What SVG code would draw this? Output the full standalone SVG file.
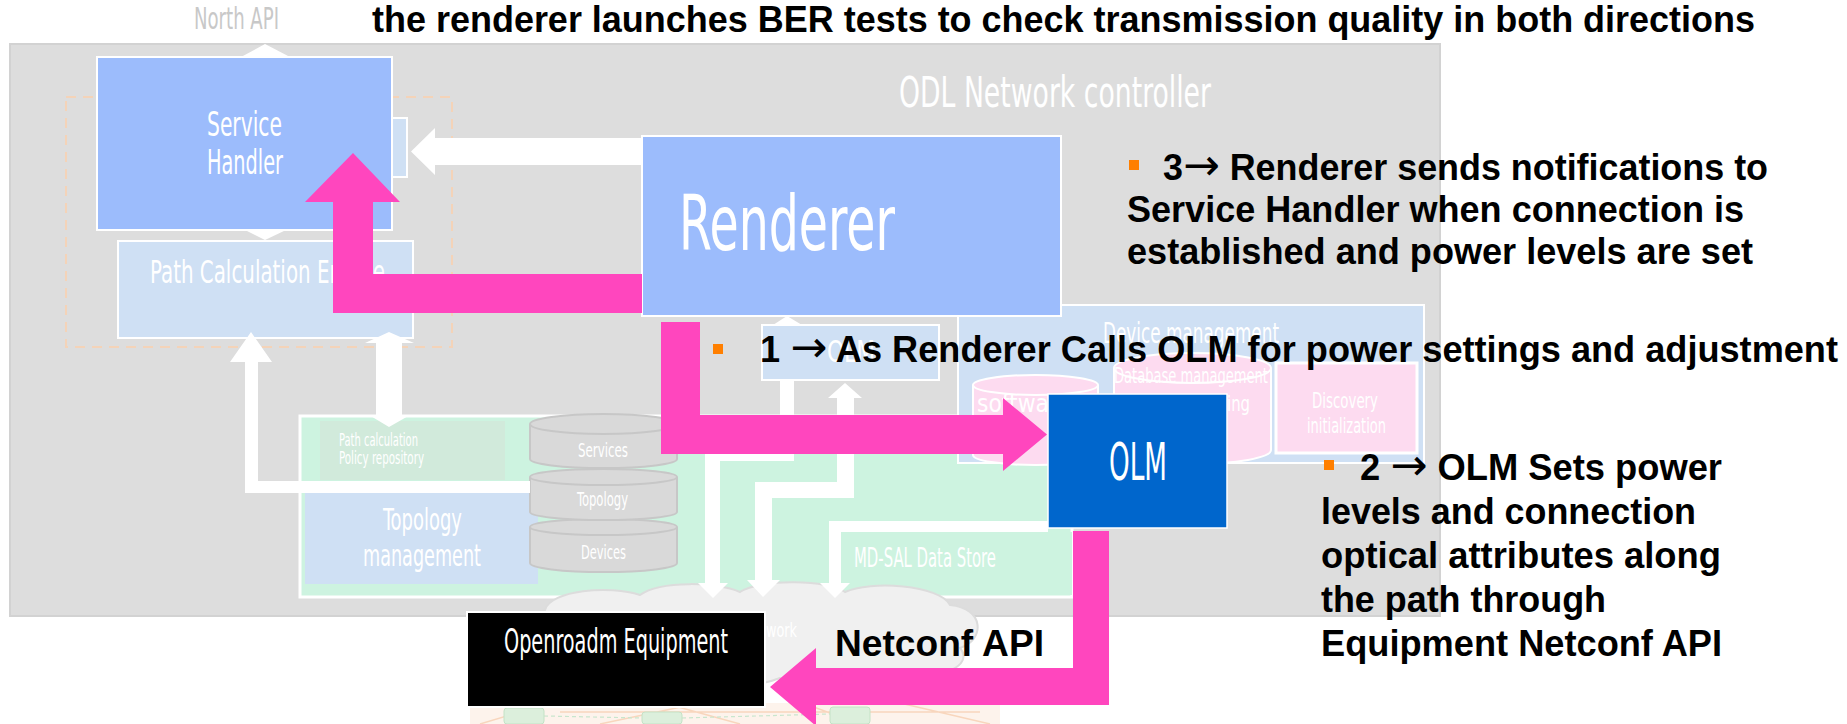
<svg xmlns="http://www.w3.org/2000/svg" width="1847" height="724" viewBox="0 0 1847 724">
<style>
.lbl{font-family:"Liberation Sans Narrow","DejaVu Sans Condensed","Liberation Sans",sans-serif;fill:#ffffff}
.blk{font-family:"Liberation Sans",Arial,sans-serif;font-weight:bold;fill:#000000;font-size:36px}
.arw{font-family:"DejaVu Sans",sans-serif;font-weight:normal;font-size:44px}
.lb{fill:#cfe0f4;stroke:#ffffff;stroke-width:2}
.blue{fill:#9cbcfc;stroke:#ffffff;stroke-width:2}
.pk{fill:#ff46be}
.wh{fill:#ffffff}
.cyl{fill:#d9d9d9;stroke:#c7c7c7;stroke-width:2}
.pcyl{fill:#fddbf0;stroke:#ffffff;stroke-width:2}
.bul{fill:#ff7f00}
.rt{fill:#dcefdc;stroke:#c4e2c6}
</style>
<rect width="1847" height="724" fill="#ffffff"/>

<g id="controller">
<rect x="10" y="44" width="1430" height="572" fill="#dddddd" stroke="#d2d2d2" stroke-width="2"/>
<text class="lbl" x="899" y="107" font-size="43" textLength="312" lengthAdjust="spacingAndGlyphs">ODL Network controller</text>
</g>
<g id="north-api"><text class="lbl" x="194" y="29" font-size="30" textLength="85" lengthAdjust="spacingAndGlyphs" style="fill:#c8c8c8">North API</text></g>

<g id="network">
<rect x="470" y="703" width="530" height="21" fill="#fdf3ec"/>
<g stroke="#f8d6bd" stroke-width="1.5" fill="none">
<path d="M480 724 L560 700 M600 724 L700 703 M740 724 L660 702 M860 724 L800 702 M900 703 L990 724 M560 712 L980 712"/>
</g>
<g stroke="#c9e6cd" stroke-width="1.2" stroke-dasharray="4 3" fill="none"><path d="M544 716 L642 718 M682 718 L830 714"/></g>
<rect class="rt" x="504" y="708" width="40" height="16" rx="3"/>
<rect class="rt" x="642" y="712" width="40" height="12" rx="3"/>
<rect class="rt" x="830" y="707" width="40" height="17" rx="3"/>
</g>

<g id="tsdn-frame"><rect x="66" y="97" width="386" height="250" fill="none" stroke="#f4d3b8" stroke-width="2" stroke-dasharray="10 7"/></g>

<g id="pce">
<rect class="lb" x="118" y="241" width="295" height="97"/>
<text class="lbl" x="150" y="283" font-size="32" textLength="235" lengthAdjust="spacingAndGlyphs">Path Calculation Engine</text>
</g>

<g id="service-handler">
<rect class="lb" x="392" y="118" width="15" height="59"/>
<rect class="blue" x="97" y="57" width="295" height="173"/>
<text class="lbl" x="207" y="136" font-size="33" textLength="75" lengthAdjust="spacingAndGlyphs">Service</text>
<text class="lbl" x="207" y="174" font-size="33" textLength="76" lengthAdjust="spacingAndGlyphs">Handler</text>
</g>

<g id="md-sal-layer">
<rect x="300" y="416" width="772" height="181" fill="#cdf3e0" stroke="#ffffff" stroke-width="3"/>
<rect x="320" y="421" width="185" height="59" fill="#d1eadb"/>
<text class="lbl" x="339" y="446" font-size="18" textLength="79" lengthAdjust="spacingAndGlyphs">Path calculation</text>
<text class="lbl" x="339" y="464" font-size="18" textLength="85" lengthAdjust="spacingAndGlyphs">Policy repository</text>
</g>
<g id="topology-management">
<rect x="305" y="493" width="233" height="91" fill="#cfe0f4"/>
<text class="lbl" x="383" y="530" font-size="30" textLength="79" lengthAdjust="spacingAndGlyphs">Topology</text>
<text class="lbl" x="363" y="566" font-size="30" textLength="118" lengthAdjust="spacingAndGlyphs">management</text>
</g>
<g id="datastores">
<path class="cyl" d="M530 527 V563 A73 9 0 0 0 677 563 V527"/><ellipse class="cyl" cx="603.5" cy="527" rx="73.5" ry="8"/>
<path class="cyl" d="M530 477 V512 A73 8 0 0 0 677 512 V477"/><ellipse class="cyl" cx="603.5" cy="477" rx="73.5" ry="8"/>
<path class="cyl" d="M530 424 V459 A73 9 0 0 0 677 459 V424"/><ellipse class="cyl" cx="603.5" cy="424" rx="73.5" ry="10"/>
<text class="lbl" x="578" y="457" font-size="20" textLength="50" lengthAdjust="spacingAndGlyphs">Services</text>
<text class="lbl" x="577" y="506" font-size="20" textLength="51" lengthAdjust="spacingAndGlyphs">Topology</text>
<text class="lbl" x="581" y="559" font-size="20" textLength="45" lengthAdjust="spacingAndGlyphs">Devices</text>
</g>
<g id="md-sal">
<rect x="840" y="532" width="232" height="63" fill="#cdf3e0"/>
<text class="lbl" x="854" y="567" font-size="26" textLength="142" lengthAdjust="spacingAndGlyphs">MD-SAL Data Store</text>
</g>

<g id="device-management">
<rect class="lb" x="958" y="305" width="466" height="158"/>
<text class="lbl" x="1103" y="343" font-size="28" textLength="176" lengthAdjust="spacingAndGlyphs">Device management</text>
<path class="pcyl" d="M973 385 V455 A62.5 10 0 0 0 1098 455 V385"/><ellipse class="pcyl" cx="1035.5" cy="385" rx="62.5" ry="10"/>
<text class="lbl" x="977" y="412" font-size="24" textLength="94" lengthAdjust="spacingAndGlyphs">software</text>
<path class="pcyl" d="M1114 368 V450 A78.5 14 0 0 0 1271 450 V368"/><ellipse class="pcyl" cx="1192.5" cy="368" rx="78.5" ry="15"/>
<text class="lbl" x="1114" y="383" font-size="22" textLength="154" lengthAdjust="spacingAndGlyphs">Database management</text>
<text class="lbl" x="1227" y="411" font-size="22" textLength="23" lengthAdjust="spacingAndGlyphs">ing</text>
<rect x="1276" y="363" width="141" height="90" fill="#fddbf0" stroke="#ffffff" stroke-width="3"/>
<text class="lbl" x="1312" y="408" font-size="22" textLength="66" lengthAdjust="spacingAndGlyphs">Discovery</text>
<text class="lbl" x="1307" y="433" font-size="22" textLength="79" lengthAdjust="spacingAndGlyphs">initialization</text>
</g>

<g id="olm-base">
<rect class="lb" x="762" y="325" width="177" height="55"/>
<text class="lbl" x="827" y="362" font-size="30" textLength="48" lengthAdjust="spacingAndGlyphs">OLM</text>
</g>

<g id="renderer">
<rect class="blue" x="642" y="136" width="419" height="180"/>
<text class="lbl" x="679" y="250" font-size="76" textLength="216" lengthAdjust="spacingAndGlyphs">Renderer</text>
</g>

<g id="cloud">
<path d="M540 650 C515 645 515 615 545 610 C550 590 610 585 640 595 C660 580 720 582 740 592 C760 578 830 580 845 592 C870 580 940 585 950 605 C985 608 985 640 960 648 C975 665 940 682 900 675 C880 690 800 690 780 678 C750 690 680 690 660 678 C630 688 560 685 555 668 C530 668 525 655 540 650 Z" fill="#f0f0f0" stroke="#dcdcdc" stroke-width="2"/>
<text class="lbl" x="766" y="637" font-size="20" textLength="31" lengthAdjust="spacingAndGlyphs">work</text>
</g>

<g id="connectors">
<polygon class="wh" points="241,57 265,44 290,57"/>
<polygon class="wh" points="245,230 286,230 265,240"/>
<polygon class="wh" points="642,138 435,138 435,128 411,151.5 435,175 435,165 642,165"/>
<polygon class="wh" points="530,481 258,481 258,362 272,362 251,332 230,362 245,362 245,493 530,493"/>
<polygon class="wh" points="376,343 365,343 389,332 414,343 402,343 402,415 410,415 389,427 369,415 376,415"/>
<polygon class="wh" points="773,325 787,316 802,325"/>
<polygon class="wh" points="780,380 794,380 794,461 720,461 720,583 728,583 713,598 698,583 705,583 705,454 780,454"/>
<polygon class="wh" points="845,383 862,398 854,398 854,498 772,498 772,580 780,580 763,597 747,580 755,580 755,482 837,482 837,398 828,398"/>
<polygon class="wh" points="1048,521 1048,532 841,532 841,583 850,583 835,598 820,583 829,583 829,521"/>
<polygon class="pk" points="642,274 373,274 373,202 400,202 353,153 305,202 333,202 333,313 642,313"/>
<polygon class="pk" points="661,322 700,322 700,415 1003,415 1003,398 1047,434.5 1003,471 1003,454 661,454"/>
<polygon class="pk" points="1073,531 1109,531 1109,705 816,705 816,726 770,687 816,648 816,668 1073,668"/>
</g>

<g id="openroadm-equipment">
<rect x="467" y="612" width="298" height="95" fill="#000000" stroke="#ffffff" stroke-width="2"/>
<text class="lbl" x="504" y="653" font-size="33" textLength="224" lengthAdjust="spacingAndGlyphs">Openroadm Equipment</text>
</g>

<g id="olm">
<rect x="1048" y="394" width="179" height="134" fill="#0066cc" stroke="#ffffff" stroke-width="1.5"/>
<text class="lbl" x="1109" y="480" font-size="52" textLength="58" lengthAdjust="spacingAndGlyphs">OLM</text>
</g>

<g id="annotations">
<text class="blk" x="372" y="32" textLength="1383" lengthAdjust="spacingAndGlyphs">the renderer launches BER tests to check transmission quality in both directions</text>
<rect class="bul" x="1129" y="160" width="10" height="10"/>
<text class="blk" x="1163" y="180" textLength="605" lengthAdjust="spacingAndGlyphs">3<tspan class="arw">→</tspan> Renderer sends notifications to</text>
<text class="blk" x="1127" y="222" textLength="617" lengthAdjust="spacingAndGlyphs">Service Handler when connection is</text>
<text class="blk" x="1127" y="264" textLength="626" lengthAdjust="spacingAndGlyphs">established and power levels are set</text>
<rect class="bul" x="713" y="344" width="10" height="10"/>
<text class="blk" x="760" y="362" textLength="1078" lengthAdjust="spacingAndGlyphs">1 <tspan class="arw">→</tspan> As Renderer Calls OLM for power settings and adjustment</text>
<rect class="bul" x="1324" y="460" width="10" height="10"/>
<text class="blk" x="1360" y="480" textLength="362" lengthAdjust="spacingAndGlyphs">2 <tspan class="arw">→</tspan> OLM Sets power</text>
<text class="blk" x="1321" y="524" textLength="375" lengthAdjust="spacingAndGlyphs">levels and connection</text>
<text class="blk" x="1321" y="568" textLength="400" lengthAdjust="spacingAndGlyphs">optical attributes along</text>
<text class="blk" x="1321" y="612" textLength="285" lengthAdjust="spacingAndGlyphs">the path through</text>
<text class="blk" x="1321" y="656" textLength="401" lengthAdjust="spacingAndGlyphs">Equipment Netconf API</text>
<text class="blk" x="835" y="656" font-size="37" textLength="209" lengthAdjust="spacingAndGlyphs">Netconf API</text>
</g>
</svg>
